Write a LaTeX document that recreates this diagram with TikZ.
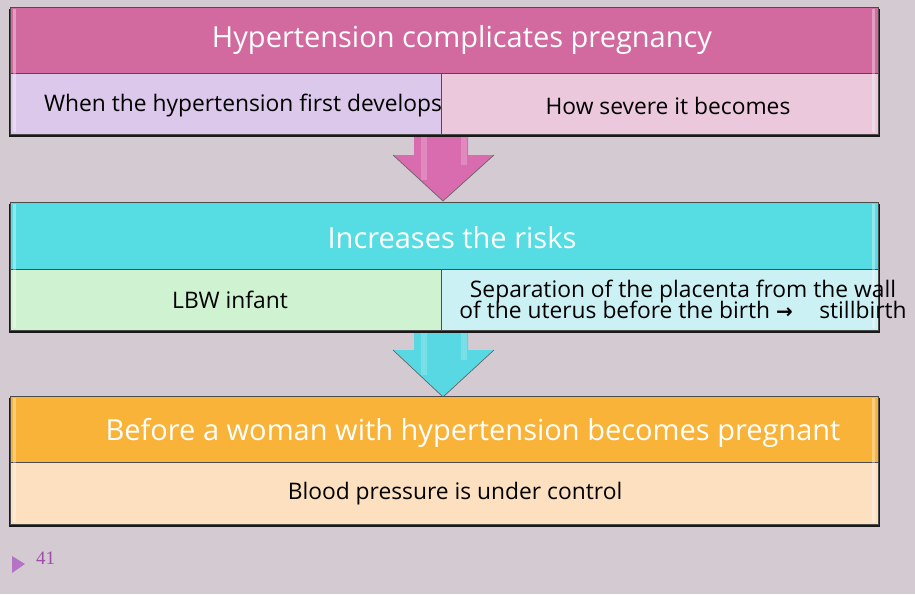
\documentclass[tikz,border=0pt]{standalone}
\usepackage{fontspec}
\setmainfont{Open Sans}
\newfontfamily\djv{DejaVu Sans}
\newfontfamily\tms{Liberation Serif}
\definecolor{bg}{HTML}{D4CAD2}
\definecolor{pinkH}{HTML}{D26AA0}
\definecolor{lavS}{HTML}{DCC8EA}
\definecolor{pinkS}{HTML}{ECC8DD}
\definecolor{cyanH}{HTML}{56DDE3}
\definecolor{greenS}{HTML}{CFF3D0}
\definecolor{cyanS}{HTML}{CCF1F5}
\definecolor{orangeH}{HTML}{F8B338}
\definecolor{orangeS}{HTML}{FCE0C0}
\definecolor{pinkA}{HTML}{D96CAE}
\definecolor{cyanA}{HTML}{58D8E2}
\definecolor{numcol}{HTML}{A04CA8}
\definecolor{tricol}{HTML}{B473C4}
\begin{document}
\begin{tikzpicture}[x=1pt,y=-1pt,
  cell/.style={draw=black!70,line width=0.6pt,inner sep=0pt,anchor=north west},
  htext/.style={text=white,font=\fontsize{29}{33}\selectfont,inner sep=0pt},
  stext/.style={text=black,font=\fontsize{22.8}{24}\selectfont,inner sep=0pt},
  shadowbox/.style={fill=black!90},
  gloss/.style={fill=white,opacity=0.35},
  arrowhead/.style={draw=black!60,line width=0.7pt,line join=miter}]
\useasboundingbox (0,0) rectangle (915,594);
\fill[bg] (0,0) rectangle (915,594);

% ---------- Box 1 ----------
\fill[shadowbox] (9,9) rectangle (880,137);
\node[cell,fill=pinkH,minimum width=868pt,minimum height=66pt] (h1) at (10,7) {};
\node[cell,fill=lavS,minimum width=431pt,minimum height=61pt] (s1a) at (10,73) {};
\node[cell,fill=pinkS,minimum width=437pt,minimum height=61pt] (s1b) at (441,73) {};
\fill[gloss] (13,9) rectangle (16,132);
\fill[gloss] (872,9) rectangle (875,132);
\node[htext] (t1) at (462,40) {Hypertension complicates pregnancy};
\node[stext] (t1a) at (243,106) {When the hypertension first develops};
\node[stext] (t1b) at (668,106) {How severe it becomes};

% ---------- Arrow 1 ----------
\fill[pinkA] (414,137) -- (468,137) -- (468,155) -- (494,155) -- (443,201) -- (393,155) -- (414,155) -- cycle;
\fill[white,opacity=0.2] (421,137) rectangle (427,180);
\fill[white,opacity=0.2] (461,137) rectangle (467,165);
\draw[arrowhead] (393,155) -- (443,201) -- (494,155);

% ---------- Box 2 ----------
\fill[shadowbox] (9,204) rectangle (880,333);
\node[cell,fill=cyanH,minimum width=868pt,minimum height=67pt] (h2) at (10,202) {};
\node[cell,fill=greenS,minimum width=431pt,minimum height=61pt] (s2a) at (10,269) {};
\node[cell,fill=cyanS,minimum width=437pt,minimum height=61pt] (s2b) at (441,269) {};
\fill[gloss] (13,204) rectangle (16,328);
\fill[gloss] (872,204) rectangle (875,328);
\node[htext] (t2) at (452,238) {Increases the risks};
\node[stext] (t2a) at (230,300) {LBW infant};
\node[stext,align=center] (t2b) at (683,299) {Separation of the placenta from the wall\\[-3pt]of the uterus before the birth {\djv\bfseries\fontsize{20}{23}\selectfont →}\hspace{0.9em} stillbirth};

% ---------- Arrow 2 ----------
\fill[cyanA] (414,333) -- (468,333) -- (468,350) -- (494,350) -- (443,397) -- (393,350) -- (414,350) -- cycle;
\fill[white,opacity=0.2] (421,333) rectangle (427,375);
\fill[white,opacity=0.2] (461,333) rectangle (467,360);
\draw[arrowhead] (393,350) -- (443,397) -- (494,350);

% ---------- Box 3 ----------
\fill[shadowbox] (9,398) rectangle (880,527);
\node[cell,fill=orangeH,minimum width=868pt,minimum height=66pt] (h3) at (10,396) {};
\node[cell,fill=orangeS,minimum width=868pt,minimum height=62pt] (s3) at (10,462) {};
\fill[gloss] (13,398) rectangle (16,522);
\fill[gloss] (872,398) rectangle (875,522);
\node[htext] (t3) at (473,433) {Before a woman with hypertension becomes pregnant};
\node[stext] (t3a) at (455,494) {Blood pressure is under control};

% ---------- page number ----------
\fill[tricol] (12,556) -- (25,564) -- (12,573) -- cycle;
\node[text=numcol,font=\tms\fontsize{19}{21}\selectfont,inner sep=0pt,anchor=west] (pg) at (36,558) {41};
\end{tikzpicture}
\end{document}
